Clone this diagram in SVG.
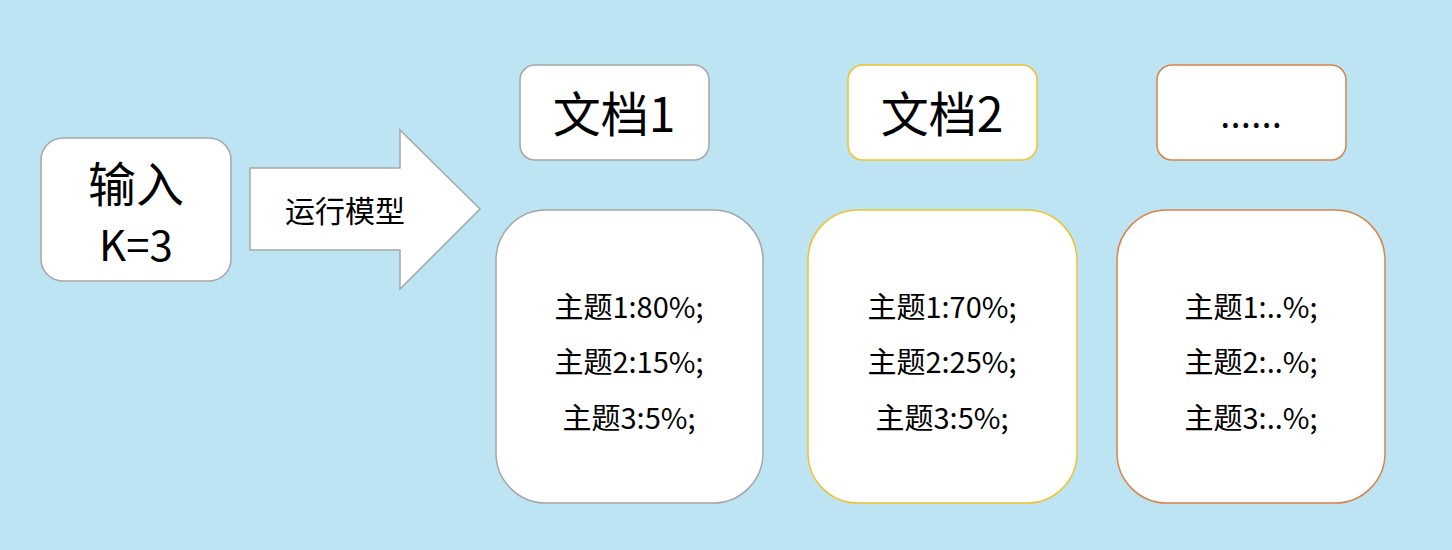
<svg xmlns="http://www.w3.org/2000/svg" width="1452" height="550" viewBox="0 0 1452 550">
<style>
.bg{fill:#BDE4F2}
.box{fill:#FFFFFF;stroke-width:1.5}
.gray{stroke:#A6A6A6}
.yel{stroke:#F2C12E}
.ora{stroke:#D9834A}
text{font-family:"Noto Sans CJK SC","Noto Sans",sans-serif;fill:#000;text-anchor:middle}
.big{font-size:48px}
.in{font-size:48px}
.mid{font-size:42px}
.arr{font-size:30px}
.sm{font-size:29px}
</style>
<rect class="bg" x="0" y="0" width="1452" height="550"/>
<g id="input">
<rect class="box gray" x="41" y="138" width="190" height="143" rx="22"/>
<text class="in" x="136" y="202">输入</text>
<text class="mid" x="136" y="261">K=3</text>
</g>
<g id="connectors">
<polygon points="250,168 400,168 400,130 480,209 400,289 400,250 250,250" fill="#FFFFFF" stroke="#A6A6A6" stroke-width="1.5"/>
<text class="arr" x="345" y="222">运行模型</text>
</g>
<g id="doc1">
<rect class="box gray" x="520" y="65" width="189" height="95" rx="15"/>
<text class="big" x="614" y="132">文档1</text>
</g>
<g id="doc2">
<rect class="box yel" x="848" y="65" width="189" height="95" rx="15"/>
<text class="big" x="942" y="132">文档2</text>
</g>
<g id="doc3">
<rect class="box ora" x="1157" y="65" width="189" height="95" rx="15"/>
<text x="1251" y="128" style="font-family:'Open Sans',sans-serif;font-size:40px">……</text>
</g>
<g id="topics1">
<rect class="box gray" x="496" y="210" width="267" height="293" rx="50"/>
<text class="sm" x="629" y="318">主题1:80%;</text>
<text class="sm" x="629" y="373">主题2:15%;</text>
<text class="sm" x="629" y="429">主题3:5%;</text>
</g>
<g id="topics2">
<rect class="box yel" x="808" y="210" width="269" height="293" rx="50"/>
<text class="sm" x="942" y="318">主题1:70%;</text>
<text class="sm" x="942" y="373">主题2:25%;</text>
<text class="sm" x="942" y="429">主题3:5%;</text>
</g>
<g id="topics3">
<rect class="box ora" x="1117" y="210" width="268" height="293" rx="50"/>
<text class="sm" x="1251" y="318">主题1:..%;</text>
<text class="sm" x="1251" y="373">主题2:..%;</text>
<text class="sm" x="1251" y="429">主题3:..%;</text>
</g>
</svg>
